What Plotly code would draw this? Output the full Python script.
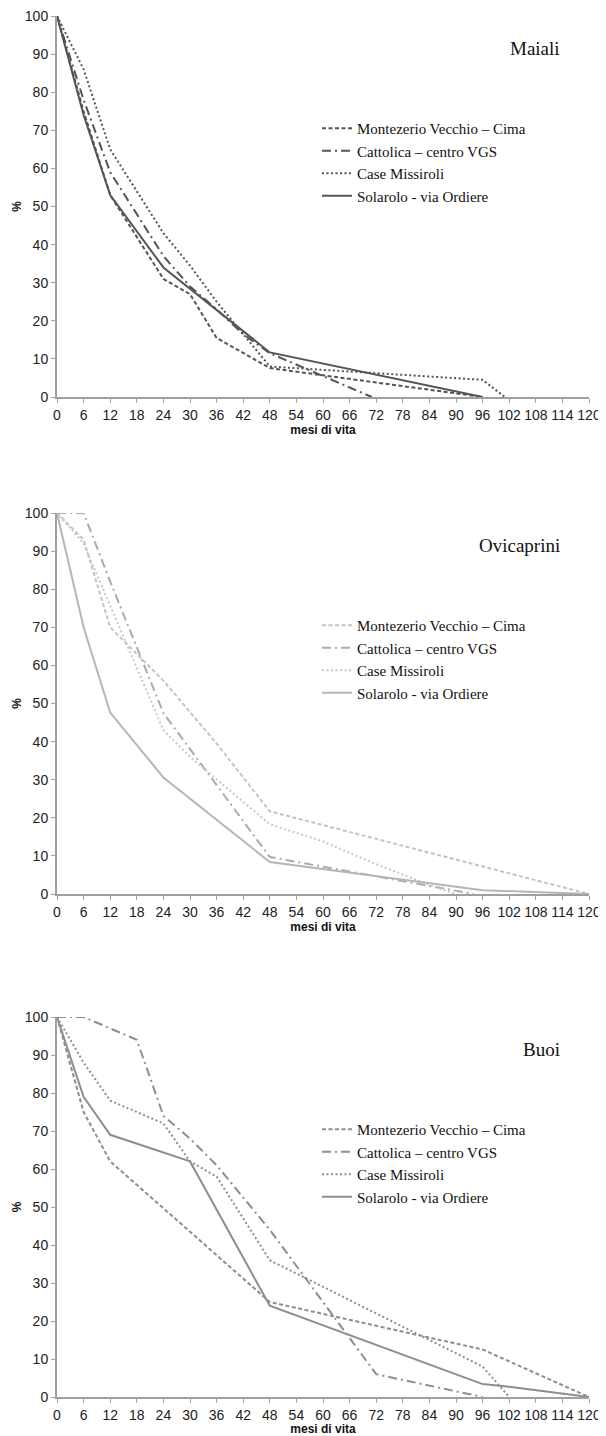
import plotly.graph_objects as go

# ---------------- data ----------------
series_names = ["Montezerio Vecchio – Cima", "Cattolica – centro VGS", "Case Missiroli", "Solarolo - via Ordiere"]
panel_titles = ["Maiali", "Ovicaprini", "Buoi"]
x_title = "mesi di vita"
y_title = "%"

# Maiali
maiali_montezerio_x = [0, 6, 12, 24, 30, 36, 48, 96]
maiali_montezerio_y = [100, 75, 53, 31, 27, 15.5, 7.6, 0]
maiali_cattolica_x = [0, 6, 12, 24, 30, 36, 42, 48, 71]
maiali_cattolica_y = [100, 78, 59, 37, 29, 23, 16.5, 11.5, 0]
maiali_case_x = [0, 6, 12, 24, 30, 36, 48, 96, 101]
maiali_case_y = [100, 86, 65, 43, 34.5, 25, 8, 4.5, 0]
maiali_solarolo_x = [0, 6, 12, 24, 48, 96]
maiali_solarolo_y = [100, 74, 53, 34, 11.7, 0]

# Ovicaprini
ovi_montezerio_x = [0, 6, 12, 24, 36, 48, 120]
ovi_montezerio_y = [100, 93, 70, 56, 39.5, 21.7, 0]
ovi_cattolica_x = [0, 6, 12, 24, 48, 94]
ovi_cattolica_y = [100, 100, 82, 47.5, 9.7, 0]
ovi_case_x = [0, 6, 24, 30, 48, 60, 72, 84, 90]
ovi_case_y = [100, 92, 43, 36, 18.3, 13.8, 7.8, 2.4, 0]
ovi_solarolo_x = [0, 6, 12, 24, 48, 96, 120]
ovi_solarolo_y = [100, 70, 47.6, 30.6, 8.4, 1, 0]

# Buoi
buoi_montezerio_x = [0, 6, 12, 48, 96, 120]
buoi_montezerio_y = [100, 75, 62, 25, 12.5, 0]
buoi_cattolica_x = [0, 6, 12, 18, 24, 30, 36, 48, 72, 96]
buoi_cattolica_y = [100, 100, 97, 94, 74, 68, 61, 44, 6, 0]
buoi_case_x = [0, 6, 12, 24, 30, 36, 48, 96, 102]
buoi_case_y = [100, 88, 78, 72, 62, 58, 36, 8, 0]
buoi_solarolo_x = [0, 6, 12, 30, 48, 96, 102, 120]
buoi_solarolo_y = [100, 79, 69, 62, 24, 3.4, 2.7, 0]

x_ticks = list(range(0, 121, 6))
y_ticks = list(range(0, 101, 10))

panels = [
    [(maiali_montezerio_x, maiali_montezerio_y), (maiali_cattolica_x, maiali_cattolica_y),
     (maiali_case_x, maiali_case_y), (maiali_solarolo_x, maiali_solarolo_y)],
    [(ovi_montezerio_x, ovi_montezerio_y), (ovi_cattolica_x, ovi_cattolica_y),
     (ovi_case_x, ovi_case_y), (ovi_solarolo_x, ovi_solarolo_y)],
    [(buoi_montezerio_x, buoi_montezerio_y), (buoi_cattolica_x, buoi_cattolica_y),
     (buoi_case_x, buoi_case_y), (buoi_solarolo_x, buoi_solarolo_y)],
]

# ---------------- styles ----------------
OFF = 8  # default page body margin
W, H = 606 - OFF, 1436 - OFF


def fx(px):
    return (px - OFF) / W


def fy(py):
    return 1 - (py - OFF) / H


dashes = ["4px,2.5px", "9px,4px,2px,4px", "2px,2.5px", "solid"]
panel_colors = [
    ["#555555", "#555555", "#555555", "#555555"],
    ["#c4c4c4", "#ababab", "#c8c8c8", "#b6b6b6"],
    ["#8e8e8e", "#8e8e8e", "#8e8e8e", "#8e8e8e"],
]
# page pixel positions (top of 100, bottom 0) per panel
panel_px = [(16, 397), (513, 894), (1017, 1397)]
x_left, x_right = 57, 589
serif = "Liberation Serif, Times New Roman, serif"
sans = "Liberation Sans Narrow, Arial Narrow, Liberation Sans, Arial, sans-serif"

fig = go.Figure()
layout = {}
annotations = []
for p, series in enumerate(panels):
    ax = "" if p == 0 else str(p + 1)
    leg = "legend" if p == 0 else f"legend{p + 1}"
    for s, (xs, ys) in enumerate(series):
        fig.add_trace(go.Scatter(
            x=xs, y=ys, mode="lines", name=series_names[s],
            line=dict(color=panel_colors[p][s], width=2, dash=dashes[s]),
            xaxis="x" + ax, yaxis="y" + ax, legend=leg, showlegend=True,
            legendgroup=f"p{p}s{s}",
        ))
    top, bot = panel_px[p]
    layout["xaxis" + ax] = dict(
        domain=[fx(x_left), fx(x_right)], anchor="y" + ax, range=[0, 120],
        tickmode="array", tickvals=x_ticks, ticks="outside", ticklen=4,
        tickcolor="#a0a0a0", showline=True, linecolor="#a0a0a0", linewidth=2,
        showgrid=False, zeroline=False, automargin=False, ticklabeloverflow="allow",
        tickfont=dict(family=sans, size=14, color="#222"),
        title=dict(text="<b>" + x_title + "</b>", font=dict(family=sans, size=12, color="#111"), standoff=1),
        fixedrange=True,
    )
    layout["yaxis" + ax] = dict(
        domain=[fy(bot), fy(top)], anchor="x" + ax, range=[0, 100],
        tickmode="array", tickvals=y_ticks, ticks="outside", ticklen=4,
        tickcolor="#a0a0a0", showline=True, linecolor="#a0a0a0", linewidth=2,
        showgrid=False, zeroline=False, automargin=False, ticklabeloverflow="allow",
        tickfont=dict(family=sans, size=14, color="#222"),
        title=dict(text="<b>" + y_title + "</b>", font=dict(family=sans, size=12, color="#111"), standoff=1),
        fixedrange=True,
    )
    layout[leg] = dict(
        x=fx(317), xanchor="left", y=fy(top + 96), yanchor="top",
        font=dict(family=serif, size=15, color="#111"), bgcolor="rgba(0,0,0,0)",
        tracegroupgap=5, itemwidth=30, traceorder="normal",
    )
    annotations.append(dict(
        text=panel_titles[p], x=fx(562), y=fy(top + 32), xref="paper", yref="paper",
        xanchor="right", yanchor="middle", showarrow=False,
        font=dict(family=serif, size=19, color="#111"),
    ))

fig.update_layout(
    width=W, height=H, margin=dict(l=0, r=0, t=0, b=0),
    paper_bgcolor="white", plot_bgcolor="white",
    annotations=annotations, **layout,
)
fig.write_html("out.html")
